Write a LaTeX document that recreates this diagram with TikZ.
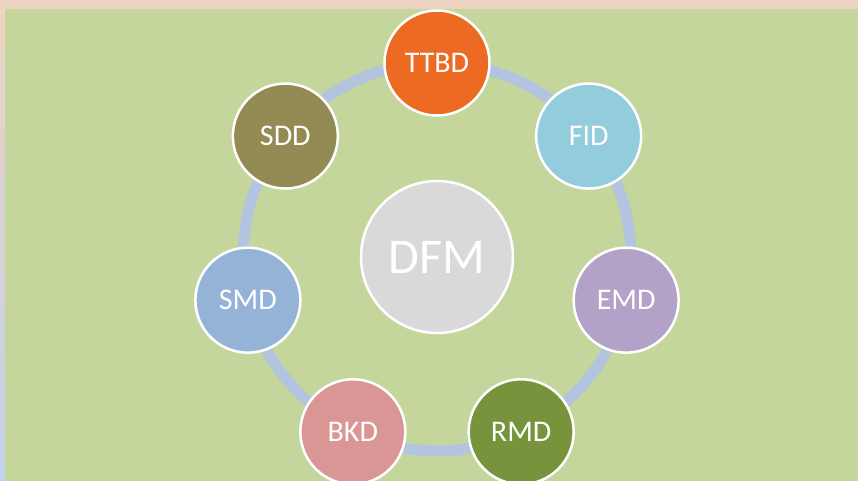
\documentclass[tikz,border=0pt]{standalone}
\usepackage{fontspec}
\setmainfont{Carlito}
\usetikzlibrary{calc}
\definecolor{bggreen}{HTML}{C4D69B}
\definecolor{peach}{HTML}{EDD3C2}
\definecolor{stripblue}{HTML}{C2D1EE}
\definecolor{ringblue}{HTML}{B2C4DF}
\definecolor{cTTBD}{HTML}{EC6A22}
\definecolor{cFID}{HTML}{93CDDD}
\definecolor{cEMD}{HTML}{B2A2C7}
\definecolor{cRMD}{HTML}{77933C}
\definecolor{cBKD}{HTML}{D99694}
\definecolor{cSMD}{HTML}{95B3D7}
\definecolor{cSDD}{HTML}{948A54}
\definecolor{cDFM}{HTML}{D9D9D9}
\tikzset{
  sat/.style={circle, draw=white, line width=2.5pt, minimum size=105pt, inner sep=0pt,
    text=white, font=\fontsize{30}{30}\selectfont},
  hub/.style={circle, draw=white, line width=2.5pt, minimum size=152pt, inner sep=0pt,
    fill=cDFM, text=white, font=\fontsize{50}{50}\selectfont},
  ring/.style={draw=ringblue, line width=11pt}
}
\begin{document}
\begin{tikzpicture}[x=1pt,y=-1pt]
\useasboundingbox (0,0) rectangle (858,481);
\fill[peach] (0,0) rectangle (858,9);
\shade[top color=peach, bottom color=stripblue] (0,9) rectangle (5,481);
\fill[bggreen] (5,9) rectangle (858,481);
\coordinate (c) at (437,257);
\draw[ring] (c) circle[radius=194pt];
\node[hub] (dfm) at (c) {DFM};
\node[sat, fill=cTTBD] (ttbd) at ($(c)+(90:194pt)$) {TTBD};
\node[sat, fill=cFID]  (fid)  at ($(c)+(38.57:194pt)$) {FID};
\node[sat, fill=cEMD]  (emd)  at ($(c)+(-12.86:194pt)$) {EMD};
\node[sat, fill=cRMD]  (rmd)  at ($(c)+(-64.29:194pt)$) {RMD};
\node[sat, fill=cBKD]  (bkd)  at ($(c)+(-115.71:194pt)$) {BKD};
\node[sat, fill=cSMD]  (smd)  at ($(c)+(-167.14:194pt)$) {SMD};
\node[sat, fill=cSDD]  (sdd)  at ($(c)+(141.43:194pt)$) {SDD};
\end{tikzpicture}
\end{document}
